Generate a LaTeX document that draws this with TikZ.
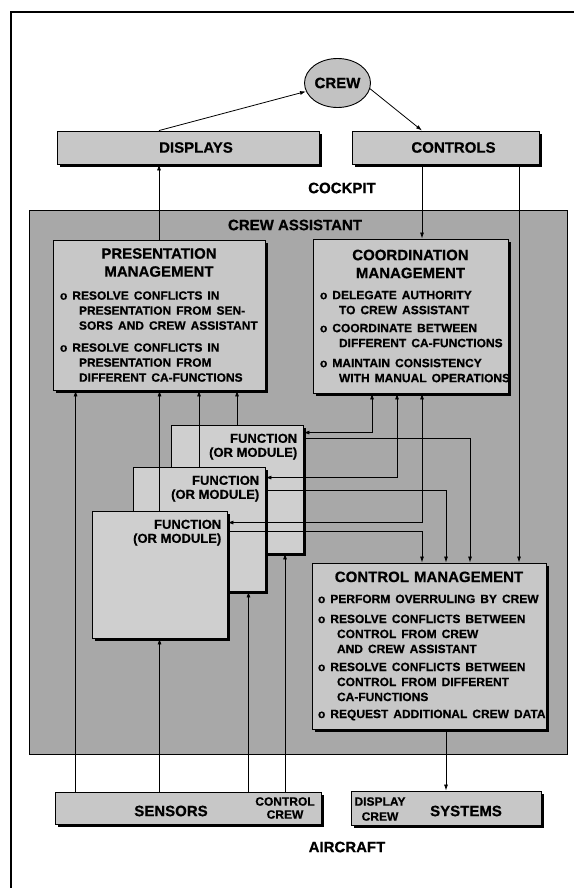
\documentclass[tikz,border=0pt]{standalone}
\usepackage{fontspec}
\setmainfont{Liberation Sans}[BoldFeatures={FakeBold=0.6}]
\usetikzlibrary{shapes.geometric,shadows,arrows.meta}
\tikzset{>={Latex[length=6pt,width=4pt]}}
\setlength{\parindent}{0pt}

\newcommand{\ttlfont}{\fontsize{15}{18}\selectfont\bfseries}
\newcommand{\txtfont}{\fontsize{12}{15}\selectfont\bfseries}
\newcommand{\fnfont}{\fontsize{13}{14}\selectfont\bfseries}
\newcommand{\bul}[1]{\mbox{o\hspace{5pt}#1}}
\newcommand{\ind}[1]{\mbox{\hspace*{19pt}#1}}

\tikzset{
  outerframe/.style={line width=1.6pt},
  cabox/.style={draw, line width=0.9pt, fill=black!34, inner sep=0pt},
  panel/.style={draw, line width=0.9pt, fill=black!22, inner sep=0pt, font=\ttlfont,
    drop shadow={shadow xshift=2.5pt, shadow yshift=-2.5pt, fill=black, opacity=1}},
  mgmt/.style={panel, inner xsep=7pt, inner ysep=0pt},
  fnbox/.style={panel, fill=black!19},
  fntext/.style={font=\fnfont, align=right, inner sep=0pt},
  crewnode/.style={ellipse, draw, line width=0.9pt, fill=black!24, inner sep=0pt, font=\ttlfont},
  tag/.style={font=\ttlfont, inner sep=0pt},
  smalltag/.style={font=\fontsize{12}{13}\selectfont\bfseries, align=center, inner sep=0pt},
  link/.style={line width=0.8pt}
}

\begin{document}
\begin{tikzpicture}[x=1pt, y=-1pt]
\useasboundingbox (0,0) rectangle (573,888);

% outer frame
\draw[outerframe] (11,890) -- (11,12) -- (575,12);

% crew assistant area
\node[cabox, minimum width=538pt, minimum height=544pt] (ca) at (298,482) {};
\node[tag] (catitle) at (295,225) {CREW ASSISTANT};

% cockpit
\node[crewnode, minimum width=66pt, minimum height=49pt] (crew) at (337.5,83) {CREW};
\node[panel, minimum width=262pt, minimum height=33pt] (displays) at (188,147.5) {\hspace*{16pt}DISPLAYS};
\node[panel, minimum width=187pt, minimum height=33pt] (controls) at (445.5,147.5) {\hspace*{16pt}CONTROLS};
\node[tag] (cockpit) at (342,188) {COCKPIT};

% management blocks
\node[mgmt, text width=198pt, minimum height=150pt] (pm) at (159,315) {%
  {\centering PRESENTATION\\MANAGEMENT\par}\vspace{8pt}
  {\raggedright\txtfont
  \bul{RESOLVE CONFLICTS IN}\\
  \ind{PRESENTATION FROM SEN-}\\
  \ind{SORS AND CREW ASSISTANT}\\[7pt]
  \bul{RESOLVE CONFLICTS IN}\\
  \ind{PRESENTATION FROM}\\
  \ind{DIFFERENT CA-FUNCTIONS}\par}};
\node[mgmt, text width=181pt, minimum height=154pt] (cm) at (410.5,316) {%
  {\centering COORDINATION\\MANAGEMENT\par}\vspace{6pt}
  {\raggedright\txtfont
  \bul{DELEGATE AUTHORITY}\\
  \ind{TO CREW ASSISTANT}\\[3pt]
  \bul{COORDINATE BETWEEN}\\
  \ind{DIFFERENT CA-FUNCTIONS}\\[5pt]
  \bul{MAINTAIN CONSISTENCY}\\
  \ind{WITH MANUAL OPERATIONS}\par}};
\node[mgmt, text width=222pt, inner xsep=6pt, minimum height=166pt] (ctrlm) at (429,646) {%
  {\centering CONTROL MANAGEMENT\par}\vspace{6pt}
  {\raggedright\txtfont
  \bul{PERFORM OVERRULING BY CREW}\\[5pt]
  \bul{RESOLVE CONFLICTS BETWEEN}\\
  \ind{CONTROL FROM CREW}\\
  \ind{AND CREW ASSISTANT}\\[3pt]
  \bul{RESOLVE CONFLICTS BETWEEN}\\
  \ind{CONTROL FROM DIFFERENT}\\
  \ind{CA-FUNCTIONS}\\[2pt]
  \bul{REQUEST ADDITIONAL CREW DATA}\par}};

% function stack
\node[fnbox, minimum width=132pt, minimum height=128pt] (f1) at (237,489) {};
\node[fntext, anchor=north east] (f1t) at ([xshift=-6pt,yshift=-9pt]f1.north east) {FUNCTION\\(OR MODULE)};
\node[fnbox, minimum width=132pt, minimum height=124pt] (f2) at (199,529) {};
\node[fntext, anchor=north east] (f2t) at ([xshift=-6pt,yshift=-9pt]f2.north east) {FUNCTION\\(OR MODULE)};
\node[fnbox, minimum width=135pt, minimum height=127pt] (f3) at (159.5,574.5) {};
\node[fntext, anchor=north east] (f3t) at ([xshift=-6pt,yshift=-9pt]f3.north east) {FUNCTION\\(OR MODULE)};

% aircraft
\node[panel, minimum width=266pt, minimum height=32pt] (sensors) at (188,808) {};
\node[tag] (sensorstxt) at (171,811) {SENSORS};
\node[smalltag] (ctrlcrew) at (285,808) {CONTROL\\CREW};
\node[panel, minimum width=190pt, minimum height=34pt] (systems) at (446,808) {};
\node[tag] (systemstxt) at (466,811) {SYSTEMS};
\node[smalltag, font=\fontsize{12}{15}\selectfont\bfseries] (dispcrew) at (380,809) {DISPLAY\\CREW};
\node[tag] (aircraft) at (347,847) {AIRCRAFT};

% ports
\coordinate (pmS) at ([xshift=23pt]pm.south west);
\coordinate (cmA) at ([xshift=-38.5pt]cm.south);
\coordinate (cmB) at ([xshift=-13.5pt]cm.south);
\coordinate (cmC) at ([xshift=11.5pt]cm.south);
\coordinate (ctB) at ([xshift=-7pt]ctrlm.north);
\coordinate (ctD) at ([xshift=41pt]ctrlm.north);
\coordinate (ctE) at ([xshift=90pt]ctrlm.north);
\coordinate (f1a) at ([yshift=-8pt]f1.north east);
\coordinate (f1b) at ([yshift=-14pt]f1.north east);
\coordinate (f2a) at ([yshift=-11pt]f2.north east);
\coordinate (f2b) at ([yshift=-24pt]f2.north east);
\coordinate (f3a) at ([yshift=-12pt]f3.north east);
\coordinate (f3b) at ([yshift=-21pt]f3.north east);
\coordinate (f2in) at ([xshift=-17pt]f2.south east);

% cockpit links
\draw[link,->] (displays.north -| pm.north) -- (crew.195);
\draw[link,->] (crew.350) -- (controls.north -| cmC);
\draw[link,->] (pm.north) -- (pm.north |- displays.south);
\draw[link,->] (controls.south -| cmC) -- (cm.north -| cmC);
\draw[link,->] (controls.south -| ctE) -- (ctE);

% sensors and control crew
\draw[link,->] (sensors.north -| pmS) -- (pmS);
\draw[link,->] (f3.south |- sensors.north) -- (f3.south);
\draw[link,->] (sensors.north -| f2in) -- (f2in);
\draw[link,->] (ctrlcrew |- sensors.north) -- (ctrlcrew |- f1.south);

% functions to presentation
\draw[link,->] (f3.north) -- (f3.north |- pm.south);
\draw[link,->] (f2.north) -- (f2.north |- pm.south);
\draw[link,->] (f1.north) -- (f1.north |- pm.south);

% functions to coordination and control
\draw[link,<->] (f1a) -| (cmA);
\draw[link,<->] (f2a) -| (cmB);
\draw[link,<->] (f3a) -| (cmC);
\draw[link,->] (f1b) -| (ctD);
\draw[link,->] (f2b) -| (ctrlm.north -| systems.north);
\draw[link,->] (f3b) -| (ctB);
\draw[link,->] (ctrlm.south -| systems.north) -- (systems.north);

\end{tikzpicture}
\end{document}
